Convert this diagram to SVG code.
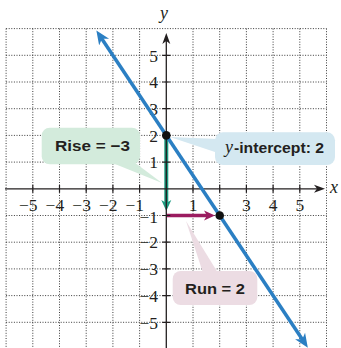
<svg xmlns="http://www.w3.org/2000/svg" width="341" height="348" viewBox="0 0 341 348">
<defs>
<style>
.grid{stroke:#3a3a3a;stroke-width:1;stroke-dasharray:1 1.6;fill:none}
.axis{stroke:#231f20;stroke-width:1.3;fill:none}
.tick{stroke:#231f20;stroke-width:1.2}
.num{font-family:"Liberation Serif","Times New Roman",serif;font-size:17.5px;fill:#231f20}
.var{font-family:"Liberation Serif","Times New Roman",serif;font-size:18px;font-style:italic;fill:#231f20}
.lab{font-family:"Liberation Sans",Arial,sans-serif;font-weight:bold;font-size:15px;fill:#231f20}
.pt{fill:#111}
</style>
<marker id="ah" viewBox="0 -7 15 14" markerWidth="15" markerHeight="14" refX="6" refY="0" orient="auto-start-reverse" markerUnits="userSpaceOnUse">
<path d="M0,-6 L14,0 L0,6 L4,0 Z" fill="#2b7fc3"/>
</marker>
<marker id="axh" viewBox="0 -5 12 10" markerWidth="12" markerHeight="10" refX="3" refY="0" orient="auto" markerUnits="userSpaceOnUse">
<path d="M0,-4 L11,0 L0,4 L3,0 Z" fill="#231f20"/>
</marker>
<marker id="gh" viewBox="0 -6 12 12" markerWidth="12" markerHeight="12" refX="3" refY="0" orient="auto" markerUnits="userSpaceOnUse">
<path d="M0,-5 L11,0 L0,5 L3,0 Z" fill="#1a9b80"/>
</marker>
<marker id="mh" viewBox="0 -6 12 12" markerWidth="12" markerHeight="12" refX="3" refY="0" orient="auto" markerUnits="userSpaceOnUse">
<path d="M0,-5 L11,0 L0,5 L3,0 Z" fill="#9b1c60"/>
</marker>
</defs>
<rect width="341" height="348" fill="#ffffff"/>
<g id="grid" class="grid">
<path d="M6.1,28.6V348M32.8,28.6V348M59.5,28.6V348M86.2,28.6V348M112.9,28.6V348M139.6,28.6V348M193,28.6V348M219.7,28.6V348M246.4,28.6V348M273.1,28.6V348M299.8,28.6V348M326.5,28.6V348"/>
<path d="M6.1,28.6H326.5M6.1,55.3H326.5M6.1,82H326.5M6.1,108.7H326.5M6.1,135.4H326.5M6.1,162.1H326.5M6.1,215.5H326.5M6.1,242.2H326.5M6.1,268.9H326.5M6.1,295.6H326.5M6.1,322.3H326.5"/>
</g>
<g id="connectors">
<line x1="166.3" y1="135.4" x2="166.3" y2="203" stroke="#1a9b80" stroke-width="4" marker-end="url(#gh)"/>
<line x1="166.3" y1="215.5" x2="207" y2="215.5" stroke="#9b1c60" stroke-width="3.5" marker-end="url(#mh)"/>
</g>
<g id="axes">
<line class="axis" x1="5" y1="188.8" x2="317" y2="188.8" marker-end="url(#axh)"/>
<line class="axis" x1="166.3" y1="348" x2="166.3" y2="41" marker-end="url(#axh)"/>
<path class="tick" d="M32.8,184.8V192.8M59.5,184.8V192.8M86.2,184.8V192.8M112.9,184.8V192.8M139.6,184.8V192.8M193,184.8V192.8M219.7,184.8V192.8M246.4,184.8V192.8M273.1,184.8V192.8M299.8,184.8V192.8"/>
<path class="tick" d="M162.3,55.3H170.3M162.3,82H170.3M162.3,108.7H170.3M162.3,135.4H170.3M162.3,162.1H170.3M162.3,215.5H170.3M162.3,242.2H170.3M162.3,268.9H170.3M162.3,295.6H170.3M162.3,322.3H170.3"/>
<text class="var" x="160" y="19">y</text>
<text class="var" x="330" y="193">x</text>
<g class="num" text-anchor="end">
<text x="37.5" y="210.5">−5</text>
<text x="64.2" y="210.5">−4</text>
<text x="90.9" y="210.5">−3</text>
<text x="117.6" y="210.5">−2</text>
<text x="144" y="210.5">−1</text>
<text x="158" y="61.5">5</text>
<text x="158" y="88.2">4</text>
<text x="158" y="114.9">3</text>
<text x="158" y="141.6">2</text>
<text x="158" y="168.3">1</text>
<text x="158" y="222.5">−1</text>
<text x="158" y="248.4">−2</text>
<text x="158" y="275.1">−3</text>
<text x="158" y="301.8">−4</text>
<text x="158" y="328.5">−5</text>
</g>
<g class="num" text-anchor="middle">
<text x="193" y="210.5">1</text>
<text x="246.4" y="210.5">3</text>
<text x="273.1" y="210.5">4</text>
<text x="299.8" y="210.5">5</text>
</g>
</g>
<g id="line">
<line x1="100.8" y1="37.2" x2="303.4" y2="341" stroke="#2b7fc3" stroke-width="3.5" marker-start="url(#ah)" marker-end="url(#ah)"/>
</g>
<g id="rise">
<polygon points="110,162 134,162 162,183" fill="#d3ebdc"/>
<rect x="41.7" y="127.7" width="98.3" height="36.6" rx="8" fill="#d3ebdc"/>
<text class="lab" x="55" y="151" textLength="75" lengthAdjust="spacingAndGlyphs">Rise = −3</text>
</g>
<g id="yintercept">
<polygon points="170,137 218,139 218,153" fill="#d4e8f1"/>
<rect x="215" y="132.3" width="120" height="32.7" rx="8" fill="#d4e8f1"/>
<text x="225" y="152.5"><tspan class="var" font-size="19">y</tspan><tspan class="lab" dx="1" textLength="90" lengthAdjust="spacingAndGlyphs">-intercept: 2</tspan></text>
</g>
<g id="run">
<polygon points="186,221 203,273 218,273" fill="#ecdce3"/>
<rect x="172.7" y="271" width="84.6" height="34" rx="8" fill="#ecdce3"/>
<text class="lab" x="185" y="294" textLength="60" lengthAdjust="spacingAndGlyphs">Run = 2</text>
</g>
<g id="points">
<circle class="pt" cx="166.3" cy="135.4" r="4.3"/>
<circle class="pt" cx="219.7" cy="215.5" r="4.3"/>
</g>
</svg>
